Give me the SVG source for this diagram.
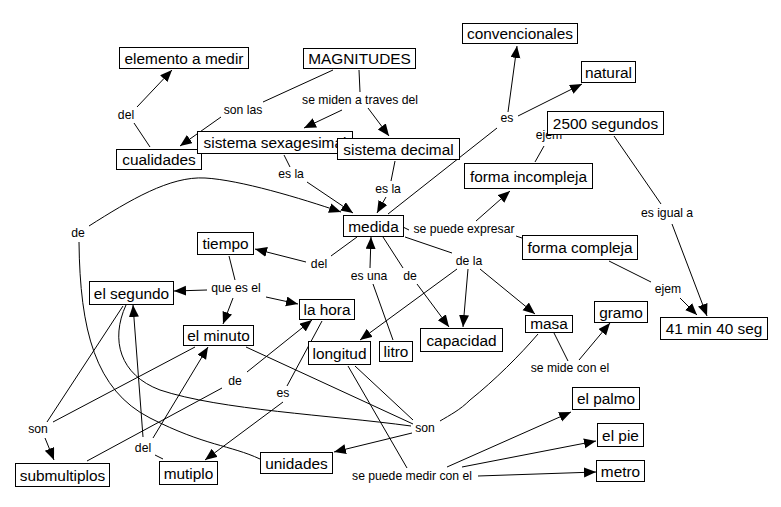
<svg xmlns="http://www.w3.org/2000/svg" width="781" height="507" viewBox="0 0 781 507">
<defs>
<marker id="ah" markerUnits="userSpaceOnUse" markerWidth="13" markerHeight="11" refX="12" refY="5" orient="auto"><path d="M0,0 L12,5 L0,10 z" fill="#000"/></marker>
<style>
.c{fill:none;stroke:#000;stroke-width:1}
.a{marker-end:url(#ah)}
.n rect{fill:#fff;stroke:#000;stroke-width:1}
.n text{font-family:"Liberation Sans",Arial,sans-serif;font-size:15.4px;text-anchor:middle;fill:#000}
.l{font-family:"Liberation Sans",Arial,sans-serif;font-size:12.2px;text-anchor:middle;fill:#000}
</style>
</defs>
<rect width="781" height="507" fill="#fff"/>
<g id="connectors">
<path class="c" d="M333,70 L263,102"/>
<path class="c a" d="M221,117 L180,146"/>
<path class="c" d="M359,70 L360,92"/>
<path class="c a" d="M342,110 L304,128"/>
<path class="c a" d="M368,108 L389,136"/>
<path class="c" d="M150,147 L134,123"/>
<path class="c a" d="M137,107 L172,70"/>
<path class="c" d="M284,155 L290,167"/>
<path class="c a" d="M307,182 L353,213"/>
<path class="c" d="M395,161 L391,181"/>
<path class="c a" d="M386,197 L377,213"/>
<path class="c" d="M79,242 C80,330 95,390 150,418 S230,445 260,459"/>
<path class="c a" d="M89,226 C130,200 170,176 205,178 C240,180 300,198 341,212"/>
<path class="c" d="M403,227 L409,230"/>
<path class="c a" d="M476,221 L510,191"/>
<path class="c" d="M516,236 L522,238"/>
<path class="c" d="M535,162 L544,146"/>
<path class="c" d="M388,214 L497,128"/>
<path class="c a" d="M508,112 L517,46"/>
<path class="c a" d="M518,116 L582,84"/>
<path class="c" d="M614,136 L661,204"/>
<path class="c a" d="M672,224 L707,316"/>
<path class="c" d="M609,261 L651,282"/>
<path class="c a" d="M680,298 L697,315"/>
<path class="c" d="M357,237 L331,256"/>
<path class="c a" d="M306,262 L255,249"/>
<path class="c" d="M229,256 L235,280"/>
<path class="c a" d="M207,290 L174,291"/>
<path class="c a" d="M233,298 L223,324"/>
<path class="c a" d="M266,297 L298,304"/>
<path class="c" d="M393,340 L373,284"/>
<path class="c a" d="M370,268 L371,237"/>
<path class="c" d="M383,237 L403,268"/>
<path class="c a" d="M417,284 L449,327"/>
<path class="c" d="M405,237 L452,253"/>
<path class="c a" d="M457,269 L360,340"/>
<path class="c a" d="M468,269 L463,327"/>
<path class="c a" d="M480,269 L535,314"/>
<path class="c" d="M554,333 L568,361"/>
<path class="c a" d="M579,360 L610,323"/>
<path class="c" d="M246,347 L413,424"/>
<path class="c" d="M126,305 C110,340 120,375 160,390 C220,410 330,415 411,426"/>
<path class="c" d="M355,366 L413,420"/>
<path class="c" d="M538,334 C520,355 495,380 470,400 C460,410 450,415 440,421"/>
<path class="c a" d="M412,433 L334,452"/>
<path class="c" d="M348,366 L407,468"/>
<path class="c a" d="M447,467 L571,412"/>
<path class="c a" d="M462,467 L596,441"/>
<path class="c a" d="M478,476 L596,472"/>
<path class="c" d="M123,306 L47,422"/>
<path class="c" d="M195,347 L53,422"/>
<path class="c a" d="M45,438 L54,460"/>
<path class="c" d="M163,459 L155,455"/>
<path class="c a" d="M143,437 L133,305"/>
<path class="c a" d="M153,438 L208,347"/>
<path class="c" d="M87,461 L222,388"/>
<path class="c a" d="M247,372 L312,320"/>
<path class="c" d="M322,321 L287,386"/>
<path class="c a" d="M283,402 L205,460"/>
</g>
<g id="labels">
<text class="l" x="243" y="114">son las</text>
<text class="l" x="360" y="104">se miden a traves del</text>
<text class="l" x="126" y="119">del</text>
<text class="l" x="291" y="178">es la</text>
<text class="l" x="388" y="193">es la</text>
<text class="l" x="78" y="237">de</text>
<text class="l" x="464" y="233">se puede expresar</text>
<text class="l" x="507" y="122">es</text>
<text class="l" x="549" y="139">ejem</text>
<text class="l" x="667" y="217">es igual a</text>
<text class="l" x="319" y="268">del</text>
<text class="l" x="236" y="292">que es el</text>
<text class="l" x="369" y="280">es una</text>
<text class="l" x="410" y="280">de</text>
<text class="l" x="469" y="265">de la</text>
<text class="l" x="668" y="293">ejem</text>
<text class="l" x="570" y="372">se mide con el</text>
<text class="l" x="425" y="432">son</text>
<text class="l" x="412" y="480">se puede medir con el</text>
<text class="l" x="235" y="385">de</text>
<text class="l" x="283" y="397">es</text>
<text class="l" x="38" y="433">son</text>
<text class="l" x="143" y="452">del</text>
</g>
<g id="n-elemento" class="n"><rect x="119.5" y="47.5" width="129" height="21"/><text x="184" y="63.5">elemento a medir</text></g>
<g id="n-magnitudes" class="n"><rect x="303.5" y="48.5" width="112" height="20"/><text x="359.5" y="64">MAGNITUDES</text></g>
<g id="n-cualidades" class="n"><rect x="116.5" y="149.5" width="85" height="20"/><text x="159" y="165">cualidades</text></g>
<g id="n-sexagesimal" class="n"><rect x="197.5" y="131.5" width="155" height="22"/><text x="275" y="148">sistema sexagesimal</text></g>
<g id="n-decimal" class="n"><rect x="337.5" y="138.5" width="122" height="21"/><text x="398.5" y="154.5">sistema decimal</text></g>
<g id="n-medida" class="n"><rect x="343.5" y="215.5" width="60" height="21"/><text x="373.5" y="231.5">medida</text></g>
<g id="n-convencionales" class="n"><rect x="462.5" y="23.5" width="115" height="20"/><text x="520" y="39">convencionales</text></g>
<g id="n-natural" class="n"><rect x="581.5" y="61.5" width="54" height="21"/><text x="608.5" y="77.5">natural</text></g>
<g id="n-2500" class="n"><rect x="547.5" y="111.5" width="116" height="23"/><text x="605.5" y="128.5">2500 segundos</text></g>
<g id="n-incompleja" class="n"><rect x="464.5" y="163.5" width="128" height="25"/><text x="528.5" y="181.5">forma incompleja</text></g>
<g id="n-compleja" class="n"><rect x="522.5" y="235.5" width="115" height="24"/><text x="580" y="253">forma compleja</text></g>
<g id="n-tiempo" class="n"><rect x="197.5" y="232.5" width="56" height="22"/><text x="225.5" y="249">tiempo</text></g>
<g id="n-segundo" class="n"><rect x="89.5" y="281.5" width="84" height="23"/><text x="131.5" y="298.5">el segundo</text></g>
<g id="n-hora" class="n"><rect x="299.5" y="299.5" width="55" height="20"/><text x="327" y="315">la hora</text></g>
<g id="n-minuto" class="n"><rect x="183.5" y="325.5" width="70" height="20"/><text x="218.5" y="341">el minuto</text></g>
<g id="n-longitud" class="n"><rect x="308.5" y="341.5" width="62" height="23"/><text x="339.5" y="358.5">longitud</text></g>
<g id="n-litro" class="n"><rect x="379.5" y="341.5" width="33" height="20"/><text x="396" y="357">litro</text></g>
<g id="n-capacidad" class="n"><rect x="420.5" y="328.5" width="82" height="23"/><text x="461.5" y="345.5">capacidad</text></g>
<g id="n-masa" class="n"><rect x="525.5" y="315.5" width="47" height="17"/><text x="549" y="329">masa</text></g>
<g id="n-gramo" class="n"><rect x="594.5" y="301.5" width="53" height="21"/><text x="621" y="317.5">gramo</text></g>
<g id="n-41min" class="n"><rect x="660.5" y="317.5" width="107" height="22"/><text x="714" y="334">41 min 40 seg</text></g>
<g id="n-palmo" class="n"><rect x="572.5" y="387.5" width="67" height="22"/><text x="606" y="404">el palmo</text></g>
<g id="n-pie" class="n"><rect x="597.5" y="423.5" width="46" height="23"/><text x="620.5" y="440.5">el pie</text></g>
<g id="n-metro" class="n"><rect x="596.5" y="460.5" width="48" height="21"/><text x="620.5" y="476.5">metro</text></g>
<g id="n-unidades" class="n"><rect x="260.5" y="452.5" width="72" height="21"/><text x="296.5" y="468.5">unidades</text></g>
<g id="n-mutiplo" class="n"><rect x="159.5" y="461.5" width="58" height="23"/><text x="188.5" y="478.5">mutiplo</text></g>
<g id="n-submultiplos" class="n"><rect x="15.5" y="463.5" width="94" height="23"/><text x="62.5" y="480.5">submultiplos</text></g>
</svg>
